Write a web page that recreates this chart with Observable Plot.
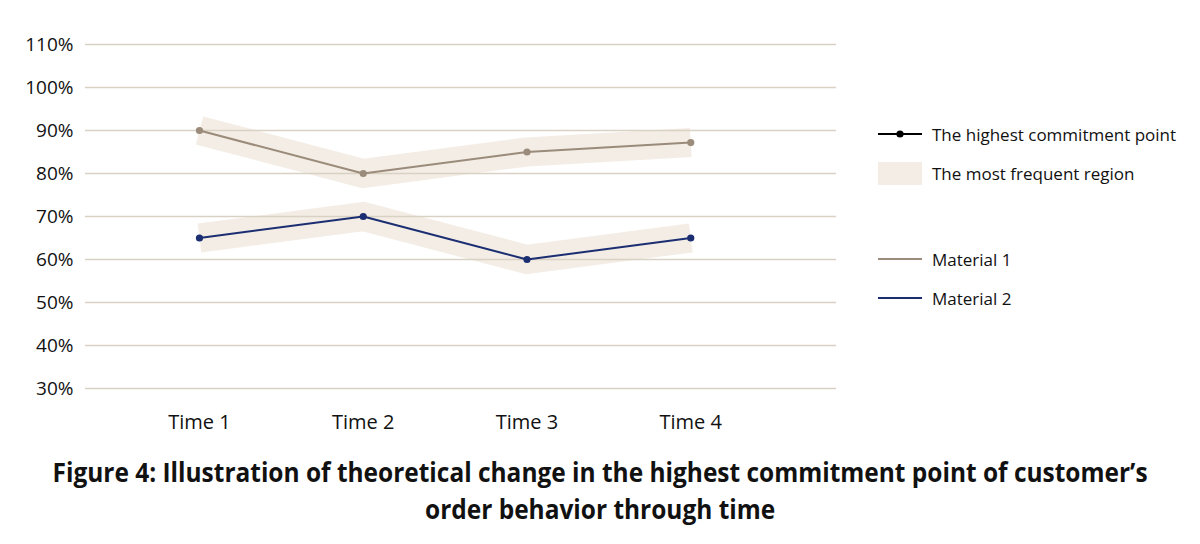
<!DOCTYPE html>
<html>
<head>
<meta charset="utf-8">
<script src="https://cdn.jsdelivr.net/npm/d3@7"></script>
<script src="https://cdn.jsdelivr.net/npm/@observablehq/plot@0.6"></script>
<style>
  body { margin: 0; background: #fff; font-family: "Open Sans", sans-serif; color: #111; }
  #wrap { position: relative; width: 1200px; height: 544px; overflow: hidden; }
  #legend { position: absolute; left: 0; top: 0; width: 1200px; height: 445px; pointer-events: none; }
  .item { position: absolute; left: 878px; display: flex; align-items: center; font-size: 17px; height: 24px; }
  .item span { margin-left: 10px; white-space: nowrap; }
  #title { text-align: center; font-family: "Open Sans", sans-serif; font-weight: bold; font-size: 26px; line-height: 37px; padding-top: 9px; }
  #title .ln { display: block; white-space: nowrap; }
  #title .ln span { display: inline-block; transform-origin: center; }
</style>
</head>
<body>
<div id="wrap">
  <div id="chart"></div>
  <div id="legend"></div>
  <div id="title"></div>
</div>
<script>
const categories = ["Time 1", "Time 2", "Time 3", "Time 4"];
const material1 = [90, 80, 85, 87.2];
const material2 = [65, 70, 60, 65];
const yTicks = [30, 40, 50, 60, 70, 80, 90, 100, 110];
const seriesNames = ["Material 1", "Material 2"];
const seriesColors = ["#9b8b7a", "#1b2e72"];
const bandColor = "#f3ede5";
const gridColor = "#d9d1c3";
const titleLines = [
  "Figure 4: Illustration of theoretical change in the highest commitment point of customer\u2019s",
  "order behavior through time"
];
const legendItems = [
  {label: "The highest commitment point", kind: "point"},
  {label: "The most frequent region", kind: "band"},
  {label: "Material 1", kind: "line", color: seriesColors[0]},
  {label: "Material 2", kind: "line", color: seriesColors[1]}
];

const rows = [];
[material1, material2].forEach((vals, s) => {
  vals.forEach((v, i) => rows.push({series: seriesNames[s], t: i + 1, v}));
});

const chart = Plot.plot({
  width: 1200,
  height: 445,
  marginLeft: 85,
  marginRight: 364,
  marginTop: 44,
  marginBottom: 57,
  style: {fontFamily: "'Open Sans', sans-serif", color: "#111", background: "#fff"},
  x: {type: "linear", domain: [0.304, 4.89], label: null},
  y: {domain: [30, 110], label: null},
  color: {domain: seriesNames, range: seriesColors},
  marks: [
    Plot.line(rows, {x: "t", y: "v", z: "series", stroke: bandColor, strokeWidth: 29, strokeLinejoin: "miter", strokeLinecap: "butt", strokeMiterlimit: 10}),
    Plot.ruleY(yTicks, {stroke: gridColor, strokeWidth: 1.3}),
    Plot.line(rows, {x: "t", y: "v", stroke: "series", strokeWidth: 2}),
    Plot.dot(rows, {x: "t", y: "v", fill: "series", r: 3.6}),
    Plot.axisY({ticks: yTicks, tickSize: 0, tickPadding: 12, fontSize: 19, label: null, tickFormat: d => d + "%"}),
    Plot.axisX({ticks: [1, 2, 3, 4], tickSize: 0, tickPadding: 26, fontSize: 20, label: null, tickFormat: d => categories[d - 1]})
  ]
});
document.getElementById("chart").appendChild(chart);

const legendTops = [122, 161, 247, 286];
const legend = document.getElementById("legend");
legendItems.forEach((it, i) => {
  const div = document.createElement("div");
  div.className = "item";
  div.style.top = legendTops[i] + "px";
  let sw;
  if (it.kind === "point") {
    sw = `<svg width="44" height="24"><line x1="0" x2="44" y1="12" y2="12" stroke="#000" stroke-width="2"/><circle cx="22" cy="12" r="3.6" fill="#000"/></svg>`;
  } else if (it.kind === "band") {
    sw = `<svg width="44" height="24"><rect x="0" y="1" width="44" height="23" fill="${bandColor}"/></svg>`;
  } else {
    sw = `<svg width="44" height="24"><line x1="0" x2="44" y1="12" y2="12" stroke="${it.color}" stroke-width="2"/></svg>`;
  }
  div.innerHTML = sw + `<span>${it.label}</span>`;
  legend.appendChild(div);
});

const titleEl = document.getElementById("title");
titleEl.innerHTML = titleLines.map(l => `<div class="ln"><span>${l}</span></div>`).join("");
function fitTitle() {
  const spans = titleEl.querySelectorAll(".ln span");
  spans.forEach(s => { s.style.transform = "none"; });
  const w0 = spans[0].offsetWidth;
  const k = Math.min(1, 1095 / w0);
  spans.forEach(s => { s.style.transform = `scaleX(${k})`; });
}
fitTitle();
if (document.fonts && document.fonts.ready) document.fonts.ready.then(fitTitle);
</script>
</body>
</html>
